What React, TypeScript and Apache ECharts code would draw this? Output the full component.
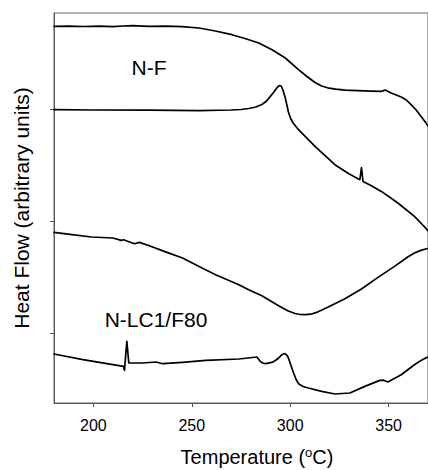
import React, { useEffect, useRef } from "react";
import * as echarts from "echarts";

const xTicks = [200, 250, 300, 350];
const yTicks = [69.3, 181.6, 293.3];
const labelTop = "N-F";
const labelBottom = "N-LC1/F80";
const yTitle = "Heat Flow (arbitrary units)";

const curveA = [
  [180, 376.6], [187, 376.8], [195, 376.5], [203, 376.8], [210, 376.3], [215, 377], [220, 377.3],
  [228, 376.6], [237, 376.8], [245, 376.3], [253.7, 375], [262, 372], [270.4, 368.3], [277, 364.5],
  [284, 360], [291, 353], [297.5, 345], [304.2, 333.3], [308.5, 326.5], [312.6, 320.5], [316, 317],
  [319, 315.2], [323, 313.8], [328, 312.9], [334.5, 312.3], [341, 311.9], [346.3, 311.6],
  [348.3, 313], [351.3, 310], [356.4, 306], [359, 303], [361.4, 298.3], [364, 293], [366.5, 286.6],
  [369, 280], [370, 277],
];

const curveB = [
  [180, 293.3], [200, 293], [228.4, 292.8], [253.7, 292.3], [270, 293], [275, 293.5], [278.9, 294.5],
  [282.5, 296], [285.6, 298.5], [288, 302], [289.9, 306.6], [291.5, 310.5], [292.8, 314],
  [293.8, 316.5], [294.6, 317.5], [295.4, 317], [296.3, 313], [297.5, 305], [299.1, 291],
  [300.2, 284.5], [301.5, 280], [304.2, 273.3], [312.6, 256.6], [322.7, 238.3], [330, 229],
  [335.4, 223.3], [336.2, 235.3], [337, 221.6], [341, 217.5], [346.3, 211.6], [354.7, 200],
  [363.1, 186.6], [368.8, 175], [370, 172],
];

const curveC = [
  [180, 170.6], [188.1, 168.6], [199, 166], [209.9, 165], [214.1, 162.6], [215.3, 163.3],
  [220.9, 159.3], [223.4, 160.6], [228.4, 157.3], [236, 151.6], [245.3, 145], [253.7, 136.6],
  [262.1, 128.3], [273.9, 118.3], [278.9, 113.3], [285.6, 107.3], [294.1, 97.3], [299, 92],
  [302.5, 89.5], [305, 88.5], [307.6, 88.3], [310.5, 88.8], [313.4, 90.6], [319.3, 96],
  [327.8, 104.3], [336.2, 114], [344.6, 125.6], [353, 136.6], [359.7, 146], [363.1, 150],
  [366.4, 152.6], [368.8, 154], [370, 154.5],
];

const curveD = [
  [180, 49], [194.7, 43.3], [215.3, 36.6], [215.8, 32.6], [217, 61.6], [218, 40], [225, 40],
  [231.8, 41], [235.2, 39.3], [245.3, 40.6], [257.1, 42.6], [273.9, 44], [283.1, 46], [284.8, 41.6],
  [286, 40], [287.4, 39.3], [290.7, 40.6], [292.5, 42.5], [294.1, 45], [295.8, 48.3], [297.1, 49.5],
  [298.2, 48], [299.1, 45], [300.4, 37.5], [301.7, 30], [303, 23.5], [304.2, 19.3], [306.5, 16.5],
  [309.2, 15], [316, 11.6], [322.7, 9], [330.3, 10], [337.9, 16.6], [345.5, 22.6], [347.5, 22.8],
  [349.6, 21], [356.4, 28.3], [363.1, 38.3], [366.5, 42.6], [368.8, 45], [370, 46],
];

const seriesList = [curveA, curveB, curveC, curveD];

const FONT = "'Liberation Sans', Arial, Helvetica, sans-serif";

export default function App() {
  const ref = useRef<HTMLDivElement>(null);
  useEffect(() => {
    if (!ref.current) return;
    const chart = echarts.init(ref.current, null, { renderer: "svg" });
    chart.setOption({
      animation: false,
      backgroundColor: "#ffffff",
      grid: {
        left: 54,
        right: -3,
        top: 13,
        bottom: 67,
        show: true,
        borderColor: "#666",
        borderWidth: 1,
      },
      xAxis: {
        type: "value",
        min: 180,
        max: 370,
        axisLine: { show: true, lineStyle: { color: "#555", width: 1 } },
        axisTick: {
          show: true,
          inside: false,
          length: 4,
          customValues: xTicks,
          lineStyle: { color: "#555" },
        },
        axisLabel: {
          customValues: xTicks,
          margin: 14,
          fontSize: 16,
          color: "#000",
          fontFamily: FONT,
        },
        splitLine: { show: false },
      },
      yAxis: {
        type: "value",
        min: 0,
        max: 390,
        axisLine: { show: true, lineStyle: { color: "#555", width: 1 } },
        axisTick: {
          show: true,
          inside: false,
          length: 4,
          customValues: yTicks,
          lineStyle: { color: "#555" },
        },
        axisLabel: { show: false },
        splitLine: { show: false },
      },
      series: seriesList.map((d) => ({
        type: "line",
        data: d,
        showSymbol: false,
        symbol: "none",
        smooth: false,
        lineStyle: { color: "#000", width: 1.7, join: "round", cap: "round" },
        silent: true,
      })),
      graphic: [
        {
          type: "text",
          x: 149,
          y: 67.5,
          style: {
            text: labelTop,
            fontSize: 21,
            fontFamily: FONT,
            fill: "#000",
            align: "center",
            verticalAlign: "middle",
          },
        },
        {
          type: "text",
          x: 156,
          y: 319,
          style: {
            text: labelBottom,
            fontSize: 21,
            fontFamily: FONT,
            fill: "#000",
            align: "center",
            verticalAlign: "middle",
          },
        },
        {
          type: "text",
          x: 21,
          y: 208,
          rotation: Math.PI / 2,
          style: {
            text: yTitle,
            fontSize: 21,
            fontFamily: FONT,
            fill: "#000",
            align: "center",
            verticalAlign: "middle",
          },
        },
        {
          type: "text",
          x: 257,
          y: 457,
          style: {
            text: "{a|Temperature (}{s|o}{a|C)}",
            align: "center",
            verticalAlign: "middle",
            rich: {
              a: { fontSize: 20, fontFamily: FONT, fill: "#000", lineHeight: 22 },
              s: { fontSize: 13, fontFamily: FONT, fill: "#000", lineHeight: 22, verticalAlign: "top", padding: [0, 0, 8, 0] },
            },
          },
        },
      ],
    });
    return () => chart.dispose();
  }, []);
  return (
    <div
      ref={ref}
      style={{ position: "absolute", left: 0, top: 0, width: 428, height: 470 }}
    />
  );
}
